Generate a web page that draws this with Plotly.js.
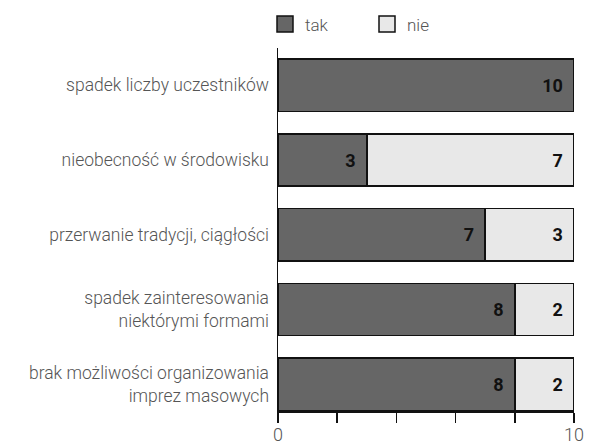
<!DOCTYPE html>
<html><head><meta charset="utf-8">
<script src="https://cdn.plot.ly/plotly-3.0.1.min.js"></script>
<style>body{margin:0;padding:0;}#chart{width:590px;height:444px;}</style>
</head><body><div id="chart"></div>
<script>
const categories = [
  "spadek liczby uczestników",
  "nieobecność w środowisku",
  "przerwanie tradycji, ciągłości",
  "spadek zainteresowania<br>niektórymi formami",
  "brak możliwości organizowania<br>imprez masowych"
];
const tak = [10, 3, 7, 8, 8];
const nie = [0, 7, 3, 2, 2];
const seriesNames = ["tak", "nie"];
const seriesColors = ["#666666", "#e8e8e8"];
const tickVals = [0, 2, 4, 6, 8, 10];
const tickText = ["0", "", "", "", "", "10"];

const labelFont = {family: "Roboto", size: 18, color: "#111", weight: 700};
function mk(name, vals, color) {
  return {
    type: "bar", orientation: "h", name: name, showlegend: false,
    y: categories, x: vals,
    text: vals.map(v => v > 0 ? String(v) : ""),
    texttemplate: "%{text}\u2009 ",
    textposition: "inside", insidetextanchor: "end",
    textfont: labelFont, constraintext: "none",
    marker: {color: color, line: {color: "#111", width: 1.5}},
    hoverinfo: "none"
  };
}
function legendItem(name, color) {
  return {
    type: "scatter", mode: "markers", name: name, x: [null], y: [null],
    marker: {symbol: "square", size: 16, color: color, line: {color: "#111", width: 1.5}},
    hoverinfo: "none", showlegend: true
  };
}
const data = [
  mk(seriesNames[0], tak, seriesColors[0]),
  mk(seriesNames[1], nie, seriesColors[1]),
  legendItem(seriesNames[0], seriesColors[0]),
  legendItem(seriesNames[1], seriesColors[1])
];
const layout = {
  width: 590, height: 444,
  margin: {l: 278, r: 16, t: 48, b: 33, autoexpand: false},
  barmode: "stack", bargap: 0.3,
  paper_bgcolor: "#fff", plot_bgcolor: "#fff",
  font: {family: "Roboto", size: 17, color: "#555", weight: 300},
  showlegend: true,
  legend: {orientation: "h", xref: "container", yref: "container", x: 265 / 590, xanchor: "left",
           y: 1 - 24.5 / 444, yanchor: "middle", itemsizing: "trace",
           font: {size: 17, color: "#555", weight: 300}, traceorder: "normal", entrywidth: 57},
  xaxis: {range: [0, 10], tickvals: tickVals, ticktext: tickText, ticks: "outside",
          ticklen: 10, tickcolor: "#111", tickwidth: 1.5, showline: true, linecolor: "#111", linewidth: 1.5,
          showgrid: false, zeroline: false, fixedrange: true, ticklabelstandoff: -3,
          tickfont: {size: 18, color: "#555", weight: 300}},
  yaxis: {type: "category", categoryorder: "array", categoryarray: categories,
          range: [4.36, -0.5], showline: true, linecolor: "#111", linewidth: 1.5,
          showgrid: false, zeroline: false, ticks: "", ticklabelstandoff: 4,
          tickfont: {size: 17.5, color: "#555", weight: 300}}
};
Plotly.newPlot("chart", data, layout, {displayModeBar: false, staticPlot: true});
</script></body></html>
